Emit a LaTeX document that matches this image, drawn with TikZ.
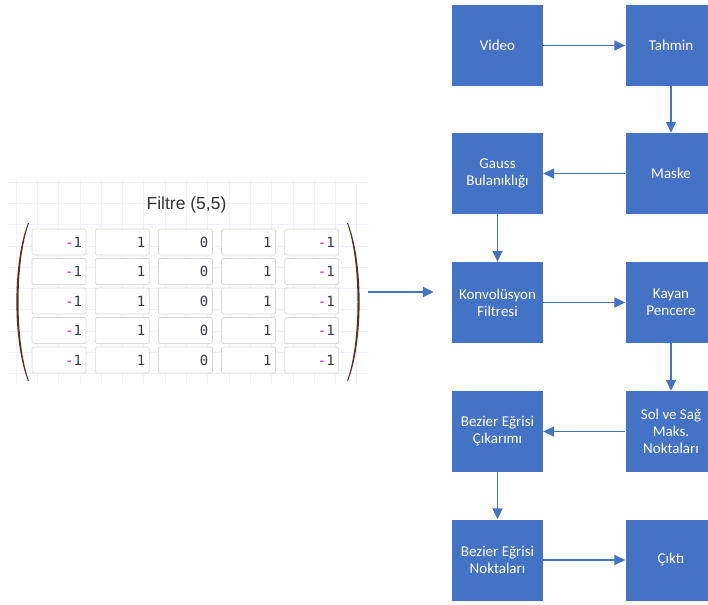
\documentclass[tikz,border=0pt]{standalone}
\usepackage{fontspec}
\setmainfont{Carlito}
\newfontfamily\titlefont{Liberation Sans}
\newfontfamily\cellfont{DejaVu Sans Mono}
\usetikzlibrary{arrows.meta}

\definecolor{boxblue}{HTML}{4472C4}
\definecolor{gridline}{HTML}{F0F1FA}
\definecolor{cellline}{HTML}{DADADA}
\definecolor{minus}{HTML}{A626A4}
\definecolor{digit}{HTML}{383A42}
\definecolor{paren}{HTML}{4A3A2C}

\tikzset{
	stage/.style={fill=boxblue, text=white, minimum width=91pt, minimum height=81pt,
		align=center, font=\fontsize{15}{17}\selectfont, inner sep=2pt},
	link/.style={draw=boxblue, line width=1.5pt, -{Triangle[length=11pt,width=10pt]}},
	cell/.style={draw=cellline, line width=0.8pt, rounded corners=1.5pt, fill=white,
		minimum width=54pt, minimum height=26pt, text width=46pt, inner sep=4pt,
		align=right, font=\cellfont\fontsize{14}{16}\selectfont, text=digit}
}
\newcommand{\negone}{\textcolor{minus}{-}1}

\begin{document}
\begin{tikzpicture}[x=1pt, y=-1pt]
				\useasboundingbox (0,0) rectangle (708,604);
				\clip (0,0) rectangle (708,604);
				% faint grid behind the filter
				\begin{scope}
					\clip (8,180) rectangle (369,383);
					\foreach \gx in {0,...,17} \draw[gridline, line width=0.8pt] (16+21.3*\gx,180) -- (16+21.3*\gx,383);
					\foreach \gy in {0,...,9} \draw[gridline, line width=0.8pt] (8,182+21.3*\gy) -- (369,182+21.3*\gy);
				\end{scope}
				\node[font=\titlefont\fontsize{17.5}{20}\selectfont, text=black!80] (title) at (186.5,205) {Filtre (5,5)};
				% 5x5 filter cells
				\foreach \r in {1,...,5} {
					\node[cell] (c\r1) at (59,242+29.5*\r-29.5) {\negone};
					\node[cell] (c\r2) at (122.2,242+29.5*\r-29.5) {1};
					\node[cell] (c\r3) at (185.4,242+29.5*\r-29.5) {0};
					\node[cell] (c\r4) at (248.6,242+29.5*\r-29.5) {1};
					\node[cell] (c\r5) at (311.8,242+29.5*\r-29.5) {\negone};
				}
				% parentheses
				\fill[paren] (28,223) .. controls (12.5,262) and (12.5,342) .. (28,381)
					-- (29,381) .. controls (15,342) and (15,262) .. (29,223) -- cycle;
				\fill[paren] (348,223) .. controls (363.5,262) and (363.5,342) .. (348,381)
					-- (347,381) .. controls (361,342) and (361,262) .. (347,223) -- cycle;
				\coordinate (mout) at (368,292);
				% stages
				\node[stage] (video) at (497.5,45.5) {Video};
				\node[stage] (tahmin) at (671,45.5) {Tahmin};
				\node[stage] (maske) at (671,173.5) {Maske};
				\node[stage] (gauss) at (497.5,173.5) {Gauss\\Bulanıklığı};
				\node[stage] (konv) at (497.5,302.5) {Konvolüsyon\\Filtresi};
				\node[stage] (kayan) at (671,302.5) {Kayan\\Pencere};
				\node[stage] (solsag) at (671,431.5) {Sol ve Sağ\\Maks.\\Noktaları};
				\node[stage] (bezier) at (497.5,431.5) {Bezier Eğrisi\\Çıkarımı};
				\node[stage] (beznok) at (497.5,560) {Bezier Eğrisi\\Noktaları};
				\node[stage] (cikti) at (671,560) {Çıktı};
				\draw[link] (video) -- (tahmin);
				\draw[link] (tahmin) -- (maske);
				\draw[link] (maske) -- (gauss);
				\draw[link] (gauss) -- (konv);
				\draw[link] (konv) -- (kayan);
				\draw[link] (kayan) -- (solsag);
				\draw[link] (solsag) -- (bezier);
				\draw[link] (bezier) -- (beznok);
				\draw[link] (beznok) -- (cikti);
				\draw[link, shorten >=18pt] (mout) -- (mout -| konv.west);
\end{tikzpicture}
\end{document}
